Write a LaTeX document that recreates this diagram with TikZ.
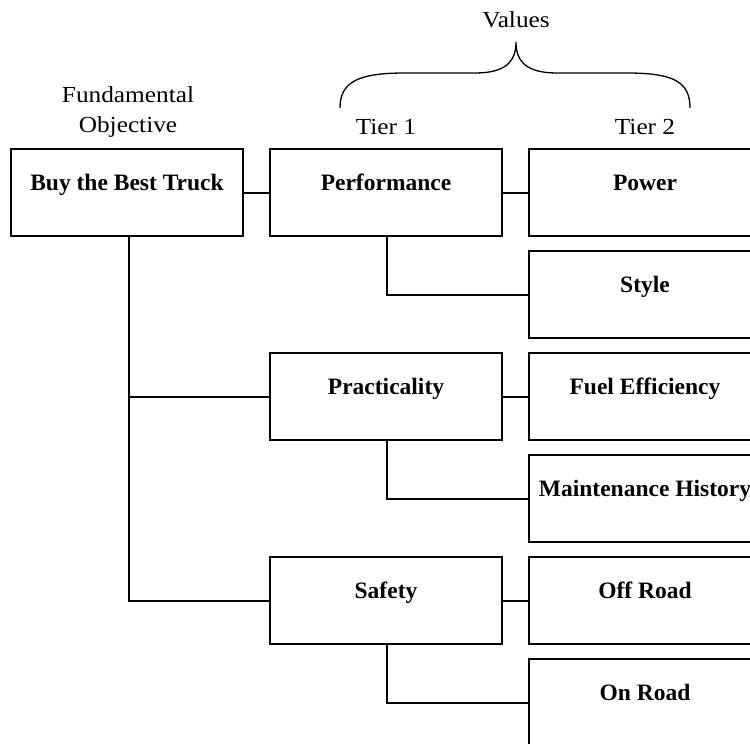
\documentclass[tikz,border=0pt]{standalone}
\usepackage{fontspec}
\setmainfont{Liberation Serif}
\newfontfamily\headfont[FakeStretch=1.1]{Liberation Serif}
\begin{document}
\begin{tikzpicture}[x=1pt,y=-1pt,
  box/.style={draw, line width=2pt, minimum width=232pt, inner xsep=0pt, inner ysep=0pt,
    text height=41pt, text depth=46pt, font=\fontsize{23.5}{26}\selectfont\bfseries},
  head/.style={font=\headfont\fontsize{23}{30}\selectfont, align=center, inner sep=0pt},
  conn/.style={line width=2pt}]
\useasboundingbox (0,0) rectangle (750,744);
\fill[white] (0,0) rectangle (750,744);
% boxes
\node[box] (root) at (127,192.5) {Buy the Best Truck};
\node[box] (perf) at (386,192.5) {Performance};
\node[box] (prac) at (386,396.5) {Practicality};
\node[box] (safe) at (386,600.5) {Safety};
\node[box] (power) at (645,192.5) {Power};
\node[box] (style) at (645,294.5) {Style};
\node[box] (fuel) at (645,396.5) {Fuel Efficiency};
\node[box] (maint) at (645,498.5) {Maintenance History};
\node[box] (off) at (645,600.5) {Off Road};
\node[box] (on) at (645,702.5) {On Road};
% headings
\node[head] (fund) at (128,112) {Fundamental\\Objective};
\node[head] (t1) at (386,127) {Tier 1};
\node[head] (t2) at (645,127) {Tier 2};
\node[head] (val) at (516,20) {Values};
% connectors
\draw[conn] (root.east) -- (perf.west);
\draw[conn] ([xshift=2pt]root.south) |- (prac.west);
\draw[conn] ([xshift=2pt]root.south) |- (safe.west);
\draw[conn] (perf.east) -- (power.west);
\draw[conn] (prac.east) -- (fuel.west);
\draw[conn] (safe.east) -- (off.west);
\draw[conn] ([xshift=1pt]perf.south) |- (style.west);
\draw[conn] ([xshift=1pt]prac.south) |- (maint.west);
\draw[conn] ([xshift=1pt]safe.south) |- (on.west);
% brace
\draw[line width=1.3pt] (340,108) .. controls (340,82) and (358,73) .. (405,73)
  -- (475,73) .. controls (505,73) and (516,62) .. (516,42)
  .. controls (516,62) and (527,73) .. (557,73)
  -- (627,73) .. controls (674,73) and (690,82) .. (690,108);
\end{tikzpicture}
\end{document}
